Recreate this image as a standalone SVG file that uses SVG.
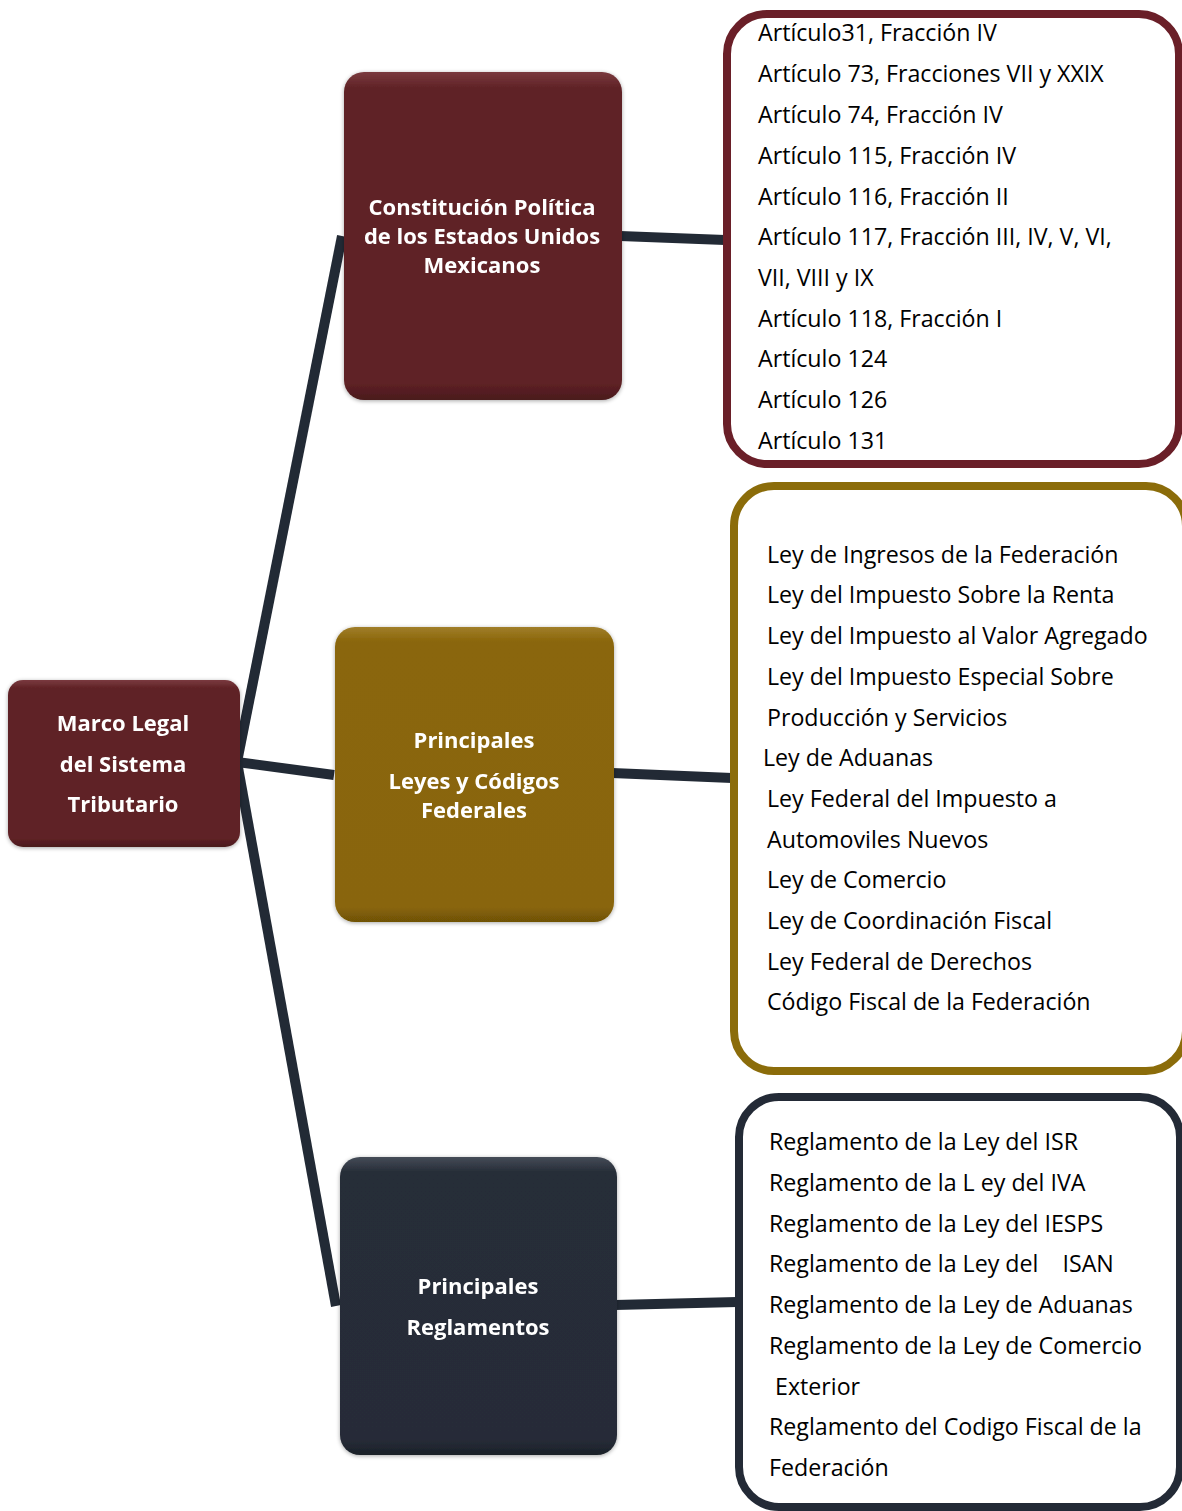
<svg xmlns="http://www.w3.org/2000/svg" width="1182" height="1511" viewBox="0 0 1182 1511">
<defs>
<linearGradient id="gM" x1="0" y1="0" x2="0" y2="1"><stop offset="0" stop-color="#7a3a3e"/><stop offset="0.05" stop-color="#5f2226"/><stop offset="0.95" stop-color="#5e2125"/><stop offset="1" stop-color="#4a1a1d"/></linearGradient>
<linearGradient id="gG" x1="0" y1="0" x2="0" y2="1"><stop offset="0" stop-color="#a07e2a"/><stop offset="0.05" stop-color="#8a6609"/><stop offset="0.95" stop-color="#896508"/><stop offset="1" stop-color="#6e5106"/></linearGradient>
<linearGradient id="gD" x1="0" y1="0" x2="0" y2="1"><stop offset="0" stop-color="#454c58"/><stop offset="0.05" stop-color="#272d38"/><stop offset="0.95" stop-color="#262c37"/><stop offset="1" stop-color="#1b2028"/></linearGradient>
<filter id="sh" x="-10%" y="-10%" width="120%" height="120%"><feGaussianBlur in="SourceAlpha" stdDeviation="2"/><feOffset dx="0" dy="1"/><feComponentTransfer><feFuncA type="linear" slope="0.35"/></feComponentTransfer><feMerge><feMergeNode/><feMergeNode in="SourceGraphic"/></feMerge></filter>
</defs>
<style>
.title{font-family:"Open Sans",Lato,sans-serif;font-weight:bold;font-size:22px;fill:#ffffff;text-anchor:middle}
.item{font-family:"Open Sans",Lato,sans-serif;font-size:23.2px;fill:#000000}
.conn{stroke:#222a35;stroke-width:10;fill:none;stroke-linecap:butt}
.list{fill:#ffffff;stroke-width:8}
</style>
<rect width="1182" height="1511" fill="#ffffff"/>
<g id="connectors">
<line class="conn" x1="237" y1="762" x2="342" y2="236"/>
<line class="conn" x1="237" y1="762" x2="334" y2="775"/>
<line class="conn" x1="237" y1="762" x2="336" y2="1306"/>
<line class="conn" x1="620" y1="236" x2="725" y2="240"/>
<line class="conn" x1="612" y1="773" x2="732" y2="778"/>
<line class="conn" x1="615" y1="1305" x2="737" y2="1302"/>
</g>
<g id="root" filter="url(#sh)">
<rect x="8" y="680" width="232" height="167" rx="15" fill="url(#gM)"/>
<text class="title" x="123" y="731">Marco Legal</text>
<text class="title" x="123" y="772">del Sistema</text>
<text class="title" x="123" y="812">Tributario</text>
</g>
<g id="constitucion" filter="url(#sh)">
<rect x="344" y="72" width="278" height="328" rx="20" fill="url(#gM)"/>
<text class="title" x="482" y="215">Constitución Política</text>
<text class="title" x="482" y="244">de los Estados Unidos</text>
<text class="title" x="482" y="273">Mexicanos</text>
</g>
<g id="leyes" filter="url(#sh)">
<rect x="335" y="627" width="279" height="295" rx="20" fill="url(#gG)"/>
<text class="title" x="474" y="748">Principales</text>
<text class="title" x="474" y="789">Leyes y Códigos</text>
<text class="title" x="474" y="818">Federales</text>
</g>
<g id="reglamentos" filter="url(#sh)">
<rect x="340" y="1157" width="277" height="298" rx="20" fill="url(#gD)"/>
<text class="title" x="478" y="1294">Principales</text>
<text class="title" x="478" y="1335">Reglamentos</text>
</g>
<g id="articulos">
<rect class="list" x="727" y="14" width="452" height="450" rx="40" stroke="#6a1f28"/>
<text class="item" x="758" y="41">Artículo31, Fracción IV</text>
<text class="item" x="758" y="82">Artículo 73, Fracciones VII y XXIX</text>
<text class="item" x="758" y="123">Artículo 74, Fracción IV</text>
<text class="item" x="758" y="164">Artículo 115, Fracción IV</text>
<text class="item" x="758" y="205">Artículo 116, Fracción II</text>
<text class="item" x="758" y="245">Artículo 117, Fracción III, IV, V, VI,</text>
<text class="item" x="758" y="286">VII, VIII y IX</text>
<text class="item" x="758" y="327">Artículo 118, Fracción I</text>
<text class="item" x="758" y="367">Artículo 124</text>
<text class="item" x="758" y="408">Artículo 126</text>
<text class="item" x="758" y="449">Artículo 131</text>
</g>
<g id="lista-leyes">
<rect class="list" x="734" y="486" width="452" height="585" rx="40" stroke="#8b6c0a"/>
<text class="item" x="767" y="563">Ley de Ingresos de la Federación</text>
<text class="item" x="767" y="603">Ley del Impuesto Sobre la Renta</text>
<text class="item" x="767" y="644">Ley del Impuesto al Valor Agregado</text>
<text class="item" x="767" y="685">Ley del Impuesto Especial Sobre</text>
<text class="item" x="767" y="726">Producción y Servicios</text>
<text class="item" x="763" y="766">Ley de Aduanas</text>
<text class="item" x="767" y="807">Ley Federal del Impuesto a</text>
<text class="item" x="767" y="848">Automoviles Nuevos</text>
<text class="item" x="767" y="888">Ley de Comercio</text>
<text class="item" x="767" y="929">Ley de Coordinación Fiscal</text>
<text class="item" x="767" y="970">Ley Federal de Derechos</text>
<text class="item" x="767" y="1010">Código Fiscal de la Federación</text>
</g>
<g id="lista-reglamentos">
<rect class="list" x="739" y="1097" width="441" height="410" rx="40" stroke="#232a36"/>
<text class="item" x="769" y="1150">Reglamento de la Ley del ISR</text>
<text class="item" x="769" y="1191">Reglamento de la L ey del IVA</text>
<text class="item" x="769" y="1232">Reglamento de la Ley del IESPS</text>
<text class="item" x="769" y="1272" xml:space="preserve">Reglamento de la Ley del    ISAN</text>
<text class="item" x="769" y="1313">Reglamento de la Ley de Aduanas</text>
<text class="item" x="769" y="1354">Reglamento de la Ley de Comercio</text>
<text class="item" x="775" y="1395">Exterior</text>
<text class="item" x="769" y="1435">Reglamento del Codigo Fiscal de la</text>
<text class="item" x="769" y="1476">Federación</text>
</g>
</svg>
